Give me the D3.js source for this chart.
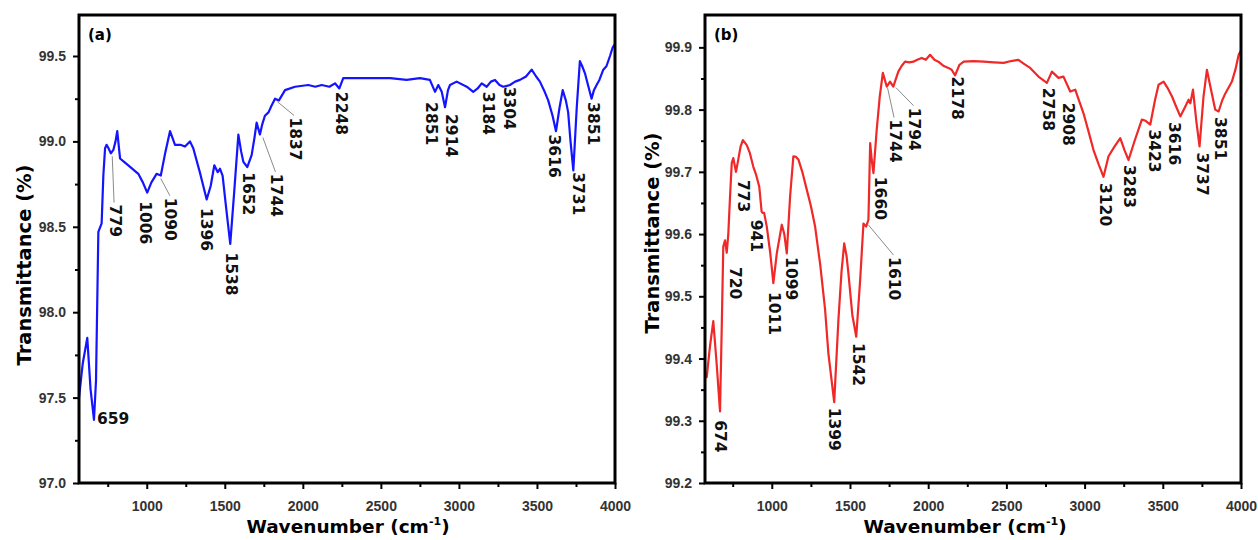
<!DOCTYPE html>
<html><head><meta charset="utf-8">
<script src="https://cdn.jsdelivr.net/npm/d3@7"></script>
<style>body{margin:0;background:#fff;} svg{display:block;}</style>
</head><body><svg id="c" width="1258" height="540"></svg>
<script>
// ---------- data ----------
const xTicks = [1000,1500,2000,2500,3000,3500,4000];
const xMinor = [750,1250,1750,2250,2750,3250,3750];
const yTicksA = [97.0,97.5,98.0,98.5,99.0,99.5];
const yMinorA = [97.25,97.75,98.25,98.75,99.25];
const yTicksB = [99.2,99.3,99.4,99.5,99.6,99.7,99.8,99.9];
const yMinorB = [99.25,99.35,99.45,99.55,99.65,99.75,99.85];

// panel (a) spectrum
const wnA = [566,590,619,640,662,675,690,711,722,733,743,755,770,786,800,811,820,829,855,882,946,975,1003,1030,1063,1090,1120,1149,1165,1181,1215,1245,1277,1298,1340,1384,1410,1433,1455,1469,1486,1510,1535,1560,1587,1605,1619,1644,1672,1690,1704,1725,1740,1757,1780,1800,1822,1847,1886,1950,2035,2080,2121,2170,2206,2234,2259,2350,2451,2560,2665,2750,2814,2847,2868,2890,2911,2930,2943,2985,3050,3092,3120,3146,3178,3205,3231,3260,3284,3327,3360,3391,3430,3466,3495,3519,3545,3572,3600,3622,3645,3665,3685,3700,3715,3733,3755,3775,3790,3807,3830,3850,3865,3882,3900,3925,3945,3968,3985,4000];
const tA = [97.50,97.70,97.85,97.55,97.37,97.60,98.47,98.52,98.80,98.96,98.98,98.96,98.93,98.95,99.00,99.06,98.98,98.90,98.88,98.86,98.81,98.76,98.70,98.76,98.81,98.80,98.94,99.06,99.02,98.98,98.98,98.97,99.00,98.96,98.82,98.66,98.74,98.86,98.82,98.84,98.80,98.60,98.40,98.70,99.04,98.94,98.88,98.85,98.92,99.02,99.11,99.04,99.10,99.15,99.17,99.21,99.25,99.24,99.30,99.32,99.33,99.32,99.33,99.32,99.34,99.31,99.37,99.37,99.37,99.37,99.36,99.37,99.36,99.29,99.33,99.29,99.20,99.30,99.33,99.35,99.32,99.29,99.31,99.34,99.32,99.35,99.36,99.33,99.32,99.33,99.35,99.36,99.38,99.42,99.38,99.35,99.30,99.24,99.15,99.06,99.20,99.30,99.24,99.17,99.00,98.83,99.20,99.47,99.44,99.40,99.32,99.25,99.30,99.33,99.36,99.42,99.44,99.50,99.55,99.57];

// panel (b) spectrum
const wnB = [573,584,605,626,648,669,680,690,701,712,722,733,744,754,771,786,800,815,840,860,882,900,920,935,941,951,968,990,1010,1032,1064,1080,1096,1117,1138,1155,1170,1195,1224,1250,1277,1310,1341,1362,1380,1399,1426,1446,1463,1478,1490,1515,1540,1565,1586,1603,1618,1629,1639,1650,1671,1690,1710,1735,1756,1777,1809,1830,1852,1880,1905,1930,1959,1985,2012,2040,2065,2100,2129,2150,2172,2200,2227,2290,2355,2420,2483,2530,2577,2615,2652,2705,2759,2791,2833,2865,2908,2940,2993,3025,3057,3090,3121,3153,3190,3228,3255,3281,3320,3366,3390,3420,3450,3473,3505,3530,3559,3585,3612,3644,3665,3676,3693,3715,3735,3760,3782,3810,3835,3857,3880,3900,3942,3965,3985,4000];
const tB = [99.37,99.37,99.42,99.46,99.39,99.315,99.45,99.58,99.59,99.57,99.60,99.66,99.714,99.722,99.70,99.72,99.74,99.751,99.743,99.73,99.708,99.695,99.676,99.636,99.634,99.634,99.612,99.57,99.521,99.569,99.615,99.60,99.569,99.66,99.725,99.724,99.72,99.70,99.671,99.645,99.612,99.55,99.478,99.408,99.37,99.33,99.462,99.54,99.585,99.565,99.537,99.47,99.435,99.526,99.617,99.612,99.623,99.746,99.719,99.698,99.768,99.82,99.859,99.837,99.845,99.837,99.861,99.870,99.877,99.876,99.877,99.880,99.883,99.880,99.888,99.880,99.877,99.870,99.867,99.864,99.855,99.872,99.877,99.878,99.877,99.876,99.875,99.878,99.880,99.873,99.867,99.853,99.843,99.861,99.851,99.853,99.829,99.832,99.794,99.765,99.735,99.712,99.692,99.725,99.740,99.754,99.735,99.719,99.75,99.784,99.782,99.776,99.815,99.840,99.845,99.835,99.821,99.805,99.789,99.805,99.816,99.810,99.832,99.78,99.741,99.82,99.864,99.83,99.800,99.797,99.815,99.826,99.845,99.865,99.888,99.895];

// peak labels (text, label anchor in wavenumber, label top in transmittance)
const peaksA = ["659","779","1006","1090","1396","1538","1652","1744","1837","2248","2851","2914","3184","3304","3616","3731","3851"];
const peakXA = [681,797,989,1155,1380,1543,1652,1831,1950,2248,2821,2949,3189,3321,3615,3766,3862];
const peakYA = [97.38,98.63,98.65,98.67,98.61,98.35,98.82,98.81,99.14,99.29,99.23,99.16,99.29,99.32,99.04,98.82,99.23];
const leadersA = ["779","1090","1744","1837"];
const leadFromWnA = [779,1090,1744,1837];
const leadFromTA = [98.93,98.80,99.04,99.25];

const peaksB = ["674","720","773","941","1011","1099","1399","1542","1610","1660","1744","1794","2178","2758","2908","3120","3283","3423","3616","3737","3851"];
const peakXB = [669,765,819,902,1018,1126,1401,1555,1785,1692,1788,1913,2188,2770,2898,3135,3288,3448,3576,3751,3871];
const peakYB = [99.301,99.547,99.687,99.623,99.507,99.563,99.321,99.425,99.563,99.692,99.784,99.803,99.853,99.835,99.811,99.682,99.711,99.768,99.780,99.731,99.788];
const leadersB = ["1610","1744","1794"];
const leadFromWnB = [1616,1740,1794];
const leadFromTB = [99.62,99.84,99.84];

// ---------- drawing ----------
const svg = d3.select("#c");
svg.append("rect").attr("width",1258).attr("height",540).attr("fill","#fff");

function panel(cfg){
  const x = d3.scaleLinear().domain(cfg.xDom).range([cfg.left,cfg.right]);
  const y = d3.scaleLinear().domain(cfg.yDom).range([cfg.bottom,cfg.top]);
  const g = svg.append("g");

  // ticks
  const ax = g.append("g").attr("transform",`translate(0,${cfg.bottom})`)
    .call(d3.axisBottom(x).tickValues(xTicks).tickSize(6).tickPadding(12).tickFormat(d3.format("d")));
  const axm = g.append("g").attr("transform",`translate(0,${cfg.bottom})`)
    .call(d3.axisBottom(x).tickValues(xMinor).tickSize(4).tickFormat(""));
  const ay = g.append("g").attr("transform",`translate(${cfg.left},0)`)
    .call(d3.axisLeft(y).tickValues(cfg.yTicks).tickSize(6).tickPadding(7).tickFormat(d3.format(".1f")));
  const aym = g.append("g").attr("transform",`translate(${cfg.left},0)`)
    .call(d3.axisLeft(y).tickValues(cfg.yMinor).tickSize(4).tickFormat(""));
  [ax,axm,ay,aym].forEach(a=>{
    a.select(".domain").remove();
    a.selectAll(".tick line").attr("stroke","#000").attr("stroke-width",2);
    a.selectAll(".tick text").attr("font-family","'Liberation Sans', Arial, sans-serif")
      .attr("font-size",14).attr("font-weight","bold").attr("fill","#333");
  });

  // curve
  const pts = cfg.wn.map((w,i)=>[w,cfg.t[i]]);
  g.append("path").datum(pts)
    .attr("fill","none").attr("stroke",cfg.color).attr("stroke-width",2.2)
    .attr("stroke-linejoin","round")
    .attr("d",d3.line().x(d=>x(d[0])).y(d=>y(d[1])));

  // leader lines
  cfg.leaders.forEach((lab,i)=>{
    const k = cfg.peaks.indexOf(lab);
    g.append("line")
      .attr("x1",x(cfg.leadWn[i])).attr("y1",y(cfg.leadT[i])+3)
      .attr("x2",x(cfg.peakX[k])-1).attr("y2",y(cfg.peakY[k])-2)
      .attr("stroke","#8a8a8a").attr("stroke-width",1);
  });

  // peak labels
  cfg.peaks.forEach((lab,i)=>{
    const t = g.append("text")
      .attr("font-family","'DejaVu Sans', sans-serif")
      .attr("font-weight","bold").attr("font-size",15.5).attr("fill","#111")
      .text(lab);
    if (cfg.horiz.includes(lab)) {
      t.attr("x",x(cfg.peakX[i])).attr("y",y(cfg.peakY[i])).attr("dy","0.35em").attr("text-anchor","start");
    } else {
      t.attr("transform",`translate(${x(cfg.peakX[i])},${y(cfg.peakY[i])}) rotate(90)`)
       .attr("dy","0.35em");
    }
  });

  // frame
  g.append("rect").attr("x",cfg.left).attr("y",cfg.top)
    .attr("width",cfg.right-cfg.left).attr("height",cfg.bottom-cfg.top)
    .attr("fill","none").attr("stroke","#000").attr("stroke-width",3);

  // panel letter
  g.append("text").attr("x",cfg.left+9).attr("y",cfg.top+25)
    .attr("font-family","'DejaVu Sans', sans-serif").attr("font-weight","bold")
    .attr("font-size",15).text(cfg.tag);

  // axis titles
  const xt = g.append("text").attr("x",cfg.xTitleX).attr("y",533)
    .attr("text-anchor","middle")
    .attr("font-family","'DejaVu Sans', sans-serif").attr("font-weight","bold").attr("font-size",18.5);
  xt.append("tspan").text("Wavenumber (cm");
  xt.append("tspan").attr("dy",-8).attr("font-size",11).text("-1");
  xt.append("tspan").attr("dy",8).text(")");

  g.append("text")
    .attr("transform",`translate(${cfg.yTitleX},${cfg.yTitleY}) rotate(-90)`)
    .attr("text-anchor","middle").attr("dy","0.35em")
    .attr("font-family","'DejaVu Sans', sans-serif").attr("font-weight","bold").attr("font-size",19.5)
    .text("Transmittance (%)");
}

panel({xDom:[566,4000], yDom:[97,99.74], left:79, right:615, top:15, bottom:483,
  yTicks:yTicksA, yMinor:yMinorA, wn:wnA, t:tA, color:"#1414ff",
  peaks:peaksA, peakX:peakXA, peakY:peakYA, horiz:["659"],
  leaders:leadersA, leadWn:leadFromWnA, leadT:leadFromTA,
  tag:"(a)", xTitleX:348, yTitleX:24, yTitleY:265});

panel({xDom:[573,4000], yDom:[99.2,99.952], left:705, right:1241, top:15, bottom:483,
  yTicks:yTicksB, yMinor:yMinorB, wn:wnB, t:tB, color:"#f02828",
  peaks:peaksB, peakX:peakXB, peakY:peakYB, horiz:[],
  leaders:leadersB, leadWn:leadFromWnB, leadT:leadFromTB,
  tag:"(b)", xTitleX:965, yTitleX:652, yTitleY:233});
</script></body></html>
